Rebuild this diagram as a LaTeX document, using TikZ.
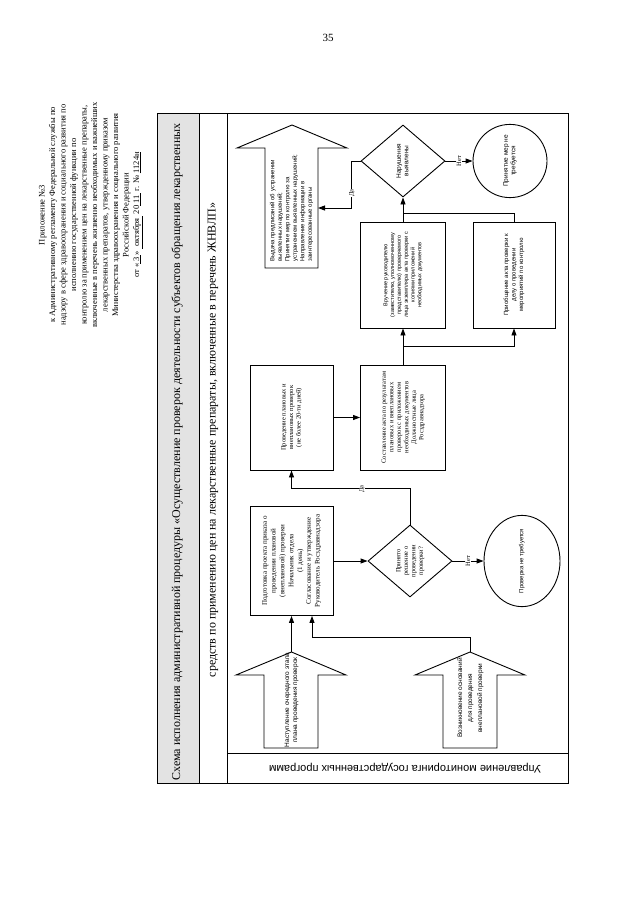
\documentclass[tikz,border=0pt]{standalone}
\usepackage{graphicx}
\usepackage{fontspec}
\setmainfont{Liberation Serif}
\setsansfont{Liberation Sans}
\usetikzlibrary{shapes.geometric,arrows.meta}
\newcommand{\rottext}[4]{\rotatebox{90}{#1\fontsize{#2}{#3}\selectfont\begin{tabular}{@{}c@{}}#4\end{tabular}}}
\newcommand{\rottextl}[4]{\rotatebox{90}{#1\fontsize{#2}{#3}\selectfont\begin{tabular}{@{}l@{}}#4\end{tabular}}}
\begin{document}
\begin{tikzpicture}[x=1pt,y=-1pt,
  ln/.style={line width=0.9pt},
  arr/.style={ln,-{Triangle[length=7pt,width=5pt]}},
  box/.style={draw,ln,inner sep=0pt},
  dia/.style={draw,ln,diamond,inner sep=0pt},
  circ/.style={draw,ln,ellipse,inner sep=0pt},
  lbl/.style={fill=white,inner sep=0.6pt,rotate=90,font=\fontsize{6.5}{7}\selectfont}]
\useasboundingbox (0,0) rectangle (640,905);
\fill[white] (0,0) rectangle (640,905);

% page number and header
\node[font=\fontsize{11}{13}\selectfont] (pn) at (328,38) {35};
\node[rotate=90,align=center,font=\fontsize{8.5}{10.5}\selectfont] (hdr) at (91,215) {Приложение №3\\
к Административному регламенту Федеральной службы по\\
надзору в сфере здравоохранения и социального развития по\\
исполнению государственной функции по\\
контролю за применением цен на лекарственные препараты,\\
включенные в перечень жизненно необходимых и важнейших\\
лекарственных препаратов, утвержденному приказом\\
Министерства здравоохранения и социального развития\\
Российской Федерации\\
от «\underline{\ 3\ }» \underline{\ октября\ } 20\underline{\ 11\ } г. № \underline{1124н}};

% frame
\fill[gray!22] (157,113) rectangle (199,783);
\draw[ln] (157,113) rectangle (568,783);
\draw[ln] (199,113) -- (199,783);
\draw[ln] (227,113) -- (227,783);
\draw[ln] (227,753) -- (568,753);
\node[rotate=90,font=\fontsize{12}{14}\selectfont] (t1) at (177,452) {Схема исполнения административной процедуры «Осуществление проверок деятельности субъектов обращения лекарственных};
\node[rotate=90,font=\fontsize{12}{14}\selectfont] (t2) at (213,440) {средств по применению цен на лекарственные препараты, включенные в перечень ЖНВЛП»};
\node[rotate=180,font=\sffamily\fontsize{11}{13}\selectfont] (ump) at (405,768) {Управление мониторинга государственных программ};

% fat arrows
\draw[ln] (292,125) -- (347,148) -- (318,148) -- (318,268) -- (265,268) -- (265,148) -- (237,148) -- cycle;
\draw[ln] (291.5,652) -- (346,675) -- (318,675) -- (318,748) -- (264,748) -- (264,675) -- (236,675) -- cycle;
\draw[ln] (470,652) -- (525,675) -- (497,675) -- (497,748) -- (443,748) -- (443,675) -- (415,675) -- cycle;
\coordinate (a1r) at (318,208);
\coordinate (a2tip) at (291.5,652);
\coordinate (a3tip) at (470,652);
\node[inner sep=0pt] (A1) at (291.5,208) {\rottextl{\sffamily}{6}{7.5}{Выдача предписаний об устранении\\выявленных нарушений;\\Принятие мер по контролю за\\устранением выявленных нарушений;\\Направление информации в\\заинтересованные органы}};
\node[inner sep=0pt] (A2) at (291.5,700) {\rottext{\sffamily}{6.5}{8}{Наступление очередного этапа\\плана проведения проверок}};
\node[inner sep=0pt] (A3) at (470,698) {\rottext{\sffamily}{6.5}{10}{Возникновение оснований\\для проведения\\внеплановой проверки}};

% decision 1
\node[dia,minimum width=84pt,minimum height=72pt] (D1) at (403,161) {\rottext{\sffamily}{6.5}{7.5}{Нарушения\\выявлены}};
\node[circ,minimum width=74pt,minimum height=72pt] (C1) at (510,161) {\rottext{\sffamily}{6.5}{7.5}{Принятие мер не\\требуется}};
\node[box,minimum width=85pt,minimum height=106pt] (Bvruch) at (403,275) {\rottext{\sffamily}{5.5}{6.8}{Вручение руководителю\\(заместителю, уполномоченному\\представителю) проверяемого\\лица экземпляра акта проверки с\\копиями приложений\\необходимых документов}};
\node[box,minimum width=82pt,minimum height=106pt] (Bprio) at (514,275) {\rottext{\sffamily}{6}{7.5}{Приобщение акта проверки к\\делу о проведении\\мероприятий по контролю}};
\node[box,minimum width=85pt,minimum height=105pt] (Bsost) at (403,417.5) {\rottext{}{6.5}{7.5}{Составление акта по результатам\\плановых и внеплановых\\проверок с приложением\\необходимых документов\\Должностные лица\\Росздравнадзора}};
\node[box,minimum width=83pt,minimum height=105pt] (Bprov) at (291.5,417.5) {\rottext{}{6.5}{7.5}{Проведение плановых и\\внеплановых проверок\\(не более 20-ти дней)}};
\node[box,minimum width=83pt,minimum height=109pt] (Bpodg) at (291.5,561) {\rottext{}{7}{8.8}{Подготовка проекта приказа о\\проведении плановой\\(внеплановой) проверки\\Начальник отдела\\(1 день)\\Согласование и утверждение\\Руководитель Росздравнадзора}};
\node[dia,minimum width=84pt,minimum height=72pt] (D2) at (410,561) {\rottext{}{6.5}{7.5}{Принято\\решение о\\проведении\\проверки?}};
\node[circ,minimum width=76pt,minimum height=78pt] (C2) at (522,561) {\rottext{\sffamily}{6}{7}{Проверка не требуется}};

% connectors
\draw[arr] (D1.west) -- ++(-9,0) |- (a1r);
\node[lbl] (da1) at (352,193) {Да};
\draw[arr] (D1.east) -- node[lbl] (net1) {Нет} (C1.west);
\draw[arr] (Bvruch.north) -- (D1.south);
\draw[ln] (Bprio.north) |- (403,213);
\draw[arr] (Bsost.north) -- (Bvruch.south);
\coordinate (j1) at (403,346);
\draw[arr] (j1) -| (Bprio.south);
\draw[arr] (Bprov.east) -- (Bsost.west);
\draw[arr] (Bpodg.east) -- (D2.west);
\draw[arr] (D2.east) -- node[lbl] (net2) {Нет} (C2.west);
\draw[arr] (D2.north) -- ++(0,-36) -| (Bprov.south);
\node[lbl] (da2) at (362,489) {Да};
\draw[arr] (a2tip) -- (Bpodg.south);
\draw[arr] (a3tip) -- ++(0,-15) -| ([xshift=20.5pt]Bpodg.south);
\end{tikzpicture}
\end{document}
